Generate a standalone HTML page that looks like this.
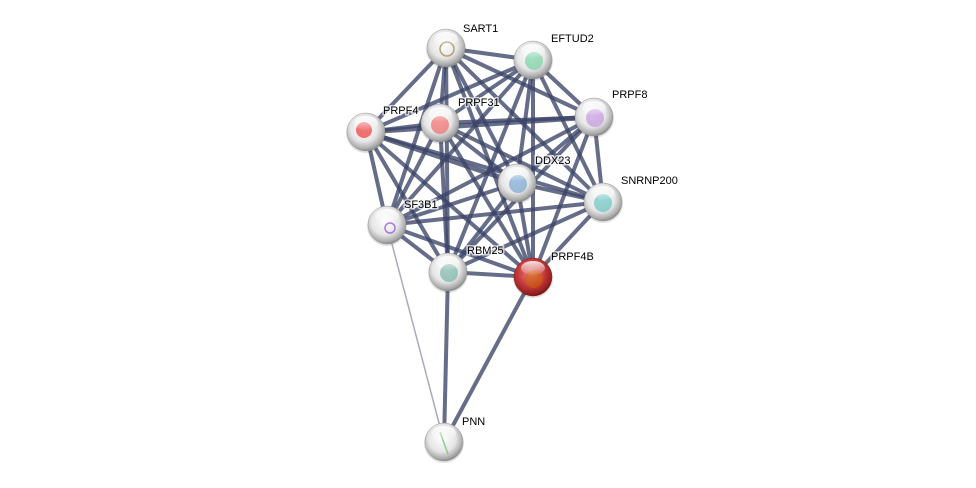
<!DOCTYPE html>
<html><head><meta charset="utf-8"><style>
html,body{margin:0;padding:0;background:#fff;}
svg{display:block;}
text{font-family:"Liberation Sans",Arial,sans-serif;font-size:11px;fill:#000;stroke:#fff;stroke-width:3px;stroke-opacity:0.7;paint-order:stroke;}
</style></head><body>
<svg width="976" height="488" viewBox="0 0 976 488" xmlns="http://www.w3.org/2000/svg">
<defs>
<radialGradient id="g" cx="45%" cy="40%" r="60%">
<stop offset="0" stop-color="#ffffff"/><stop offset="0.6" stop-color="#e6e6e6"/><stop offset="0.9" stop-color="#aaaaaa"/><stop offset="1" stop-color="#888"/>
</radialGradient>
<radialGradient id="r" cx="45%" cy="40%" r="60%">
<stop offset="0" stop-color="#e88"/><stop offset="0.6" stop-color="#c43838"/><stop offset="0.9" stop-color="#962020"/><stop offset="1" stop-color="#701414"/>
</radialGradient>
<linearGradient id="hl" x1="0" y1="0" x2="0" y2="1"><stop offset="0" stop-color="#fff" stop-opacity="0.85"/><stop offset="1" stop-color="#fff" stop-opacity="0.05"/></linearGradient>
<g id="nd"><circle cx="0" cy="1" r="20" fill="#000" opacity="0.12"/><circle r="19" fill="url(#g)" stroke="#999" stroke-width="0.5"/></g>
<g id="hlt"><ellipse cx="0" cy="-9" rx="12" ry="7" fill="url(#hl)"/></g>
</defs>
<g stroke="#3b4468" stroke-opacity="0.78" stroke-width="4" stroke-linecap="round">
<line x1="446" y1="48" x2="533" y2="60"/>
<line x1="446" y1="48" x2="594" y2="117"/>
<line x1="446" y1="48" x2="366" y2="132"/>
<line x1="446" y1="48" x2="440" y2="123"/>
<line x1="446" y1="48" x2="517" y2="183"/>
<line x1="446" y1="48" x2="603" y2="202"/>
<line x1="446" y1="48" x2="387" y2="225"/>
<line x1="446" y1="48" x2="448" y2="272"/>
<line x1="446" y1="48" x2="533" y2="277"/>
<line x1="533" y1="60" x2="594" y2="117"/>
<line x1="533" y1="60" x2="366" y2="132"/>
<line x1="533" y1="60" x2="440" y2="123"/>
<line x1="533" y1="60" x2="517" y2="183"/>
<line x1="533" y1="60" x2="603" y2="202"/>
<line x1="533" y1="60" x2="387" y2="225"/>
<line x1="533" y1="60" x2="448" y2="272"/>
<line x1="533" y1="60" x2="533" y2="277"/>
<line x1="594" y1="117" x2="366" y2="132" stroke-width="5"/>
<line x1="594" y1="117" x2="440" y2="123"/>
<line x1="594" y1="117" x2="517" y2="183"/>
<line x1="594" y1="117" x2="603" y2="202"/>
<line x1="594" y1="117" x2="387" y2="225"/>
<line x1="594" y1="117" x2="448" y2="272"/>
<line x1="594" y1="117" x2="533" y2="277"/>
<line x1="366" y1="132" x2="440" y2="123"/>
<line x1="366" y1="132" x2="517" y2="183" stroke-width="5"/>
<line x1="366" y1="132" x2="603" y2="202"/>
<line x1="366" y1="132" x2="387" y2="225"/>
<line x1="366" y1="132" x2="448" y2="272"/>
<line x1="366" y1="132" x2="533" y2="277"/>
<line x1="440" y1="123" x2="517" y2="183"/>
<line x1="440" y1="123" x2="603" y2="202"/>
<line x1="440" y1="123" x2="387" y2="225"/>
<line x1="440" y1="123" x2="448" y2="272"/>
<line x1="440" y1="123" x2="533" y2="277"/>
<line x1="517" y1="183" x2="603" y2="202"/>
<line x1="517" y1="183" x2="387" y2="225"/>
<line x1="517" y1="183" x2="448" y2="272"/>
<line x1="517" y1="183" x2="533" y2="277"/>
<line x1="603" y1="202" x2="387" y2="225"/>
<line x1="603" y1="202" x2="448" y2="272"/>
<line x1="603" y1="202" x2="533" y2="277"/>
<line x1="387" y1="225" x2="448" y2="272"/>
<line x1="387" y1="225" x2="533" y2="277"/>
<line x1="448" y1="272" x2="533" y2="277"/>
<line x1="448" y1="272" x2="444" y2="442"/>
<line x1="533" y1="277" x2="444" y2="442"/>
</g>
<line x1="387" y1="225" x2="444" y2="442" stroke="#aab" stroke-width="1.5"/>

<use href="#nd" x="446" y="48"/><circle cx="447" cy="49" r="7" fill="none" stroke="#b8a070" stroke-width="1.5"/><use href="#hlt" x="446" y="48"/>
<use href="#nd" x="533" y="60"/><circle cx="534" cy="61" r="9" fill="#6c9" opacity="0.6"/><use href="#hlt" x="533" y="60"/>
<use href="#nd" x="594" y="117"/><circle cx="595" cy="118" r="9" fill="#b8d" opacity="0.6"/><use href="#hlt" x="594" y="117"/>
<use href="#nd" x="366" y="132"/><circle cx="364" cy="130" r="8" fill="#e44" opacity="0.75"/><use href="#hlt" x="366" y="132"/>
<use href="#nd" x="440" y="123"/><circle cx="440" cy="125" r="9" fill="#e55" opacity="0.6"/><use href="#hlt" x="440" y="123"/>
<use href="#nd" x="517" y="183"/><circle cx="518" cy="184" r="9" fill="#69c" opacity="0.6"/><use href="#hlt" x="517" y="183"/>
<use href="#nd" x="603" y="202"/><circle cx="603" cy="203" r="9" fill="#5bb" opacity="0.6"/><use href="#hlt" x="603" y="202"/>
<use href="#nd" x="387" y="225"/><circle cx="390" cy="228" r="5" fill="none" stroke="#a7d" stroke-width="1.5"/><use href="#hlt" x="387" y="225"/>
<use href="#nd" x="448" y="272"/><circle cx="449" cy="273" r="9" fill="#6a9" opacity="0.6"/><use href="#hlt" x="448" y="272"/>
<circle cx="533" cy="278" r="20" fill="#000" opacity="0.12"/><circle cx="533" cy="277" r="19" fill="url(#r)" stroke="#822" stroke-width="0.5"/><circle cx="534" cy="279" r="9" fill="#c60" opacity="0.5"/><use href="#hlt" x="533" y="277"/>
<use href="#nd" x="444" y="442"/><line x1="440" y1="432" x2="448" y2="454" stroke="#8c8" stroke-width="1.5"/><use href="#hlt" x="444" y="442"/>

<text x="463" y="32">SART1</text>
<text x="551" y="42">EFTUD2</text>
<text x="612" y="98">PRPF8</text>
<text x="383" y="114">PRPF4</text>
<text x="458" y="106">PRPF31</text>
<text x="535" y="164">DDX23</text>
<text x="621" y="184">SNRNP200</text>
<text x="404" y="208">SF3B1</text>
<text x="467" y="254">RBM25</text>
<text x="551" y="260">PRPF4B</text>
<text x="462" y="425">PNN</text>
</svg>
</body></html>
